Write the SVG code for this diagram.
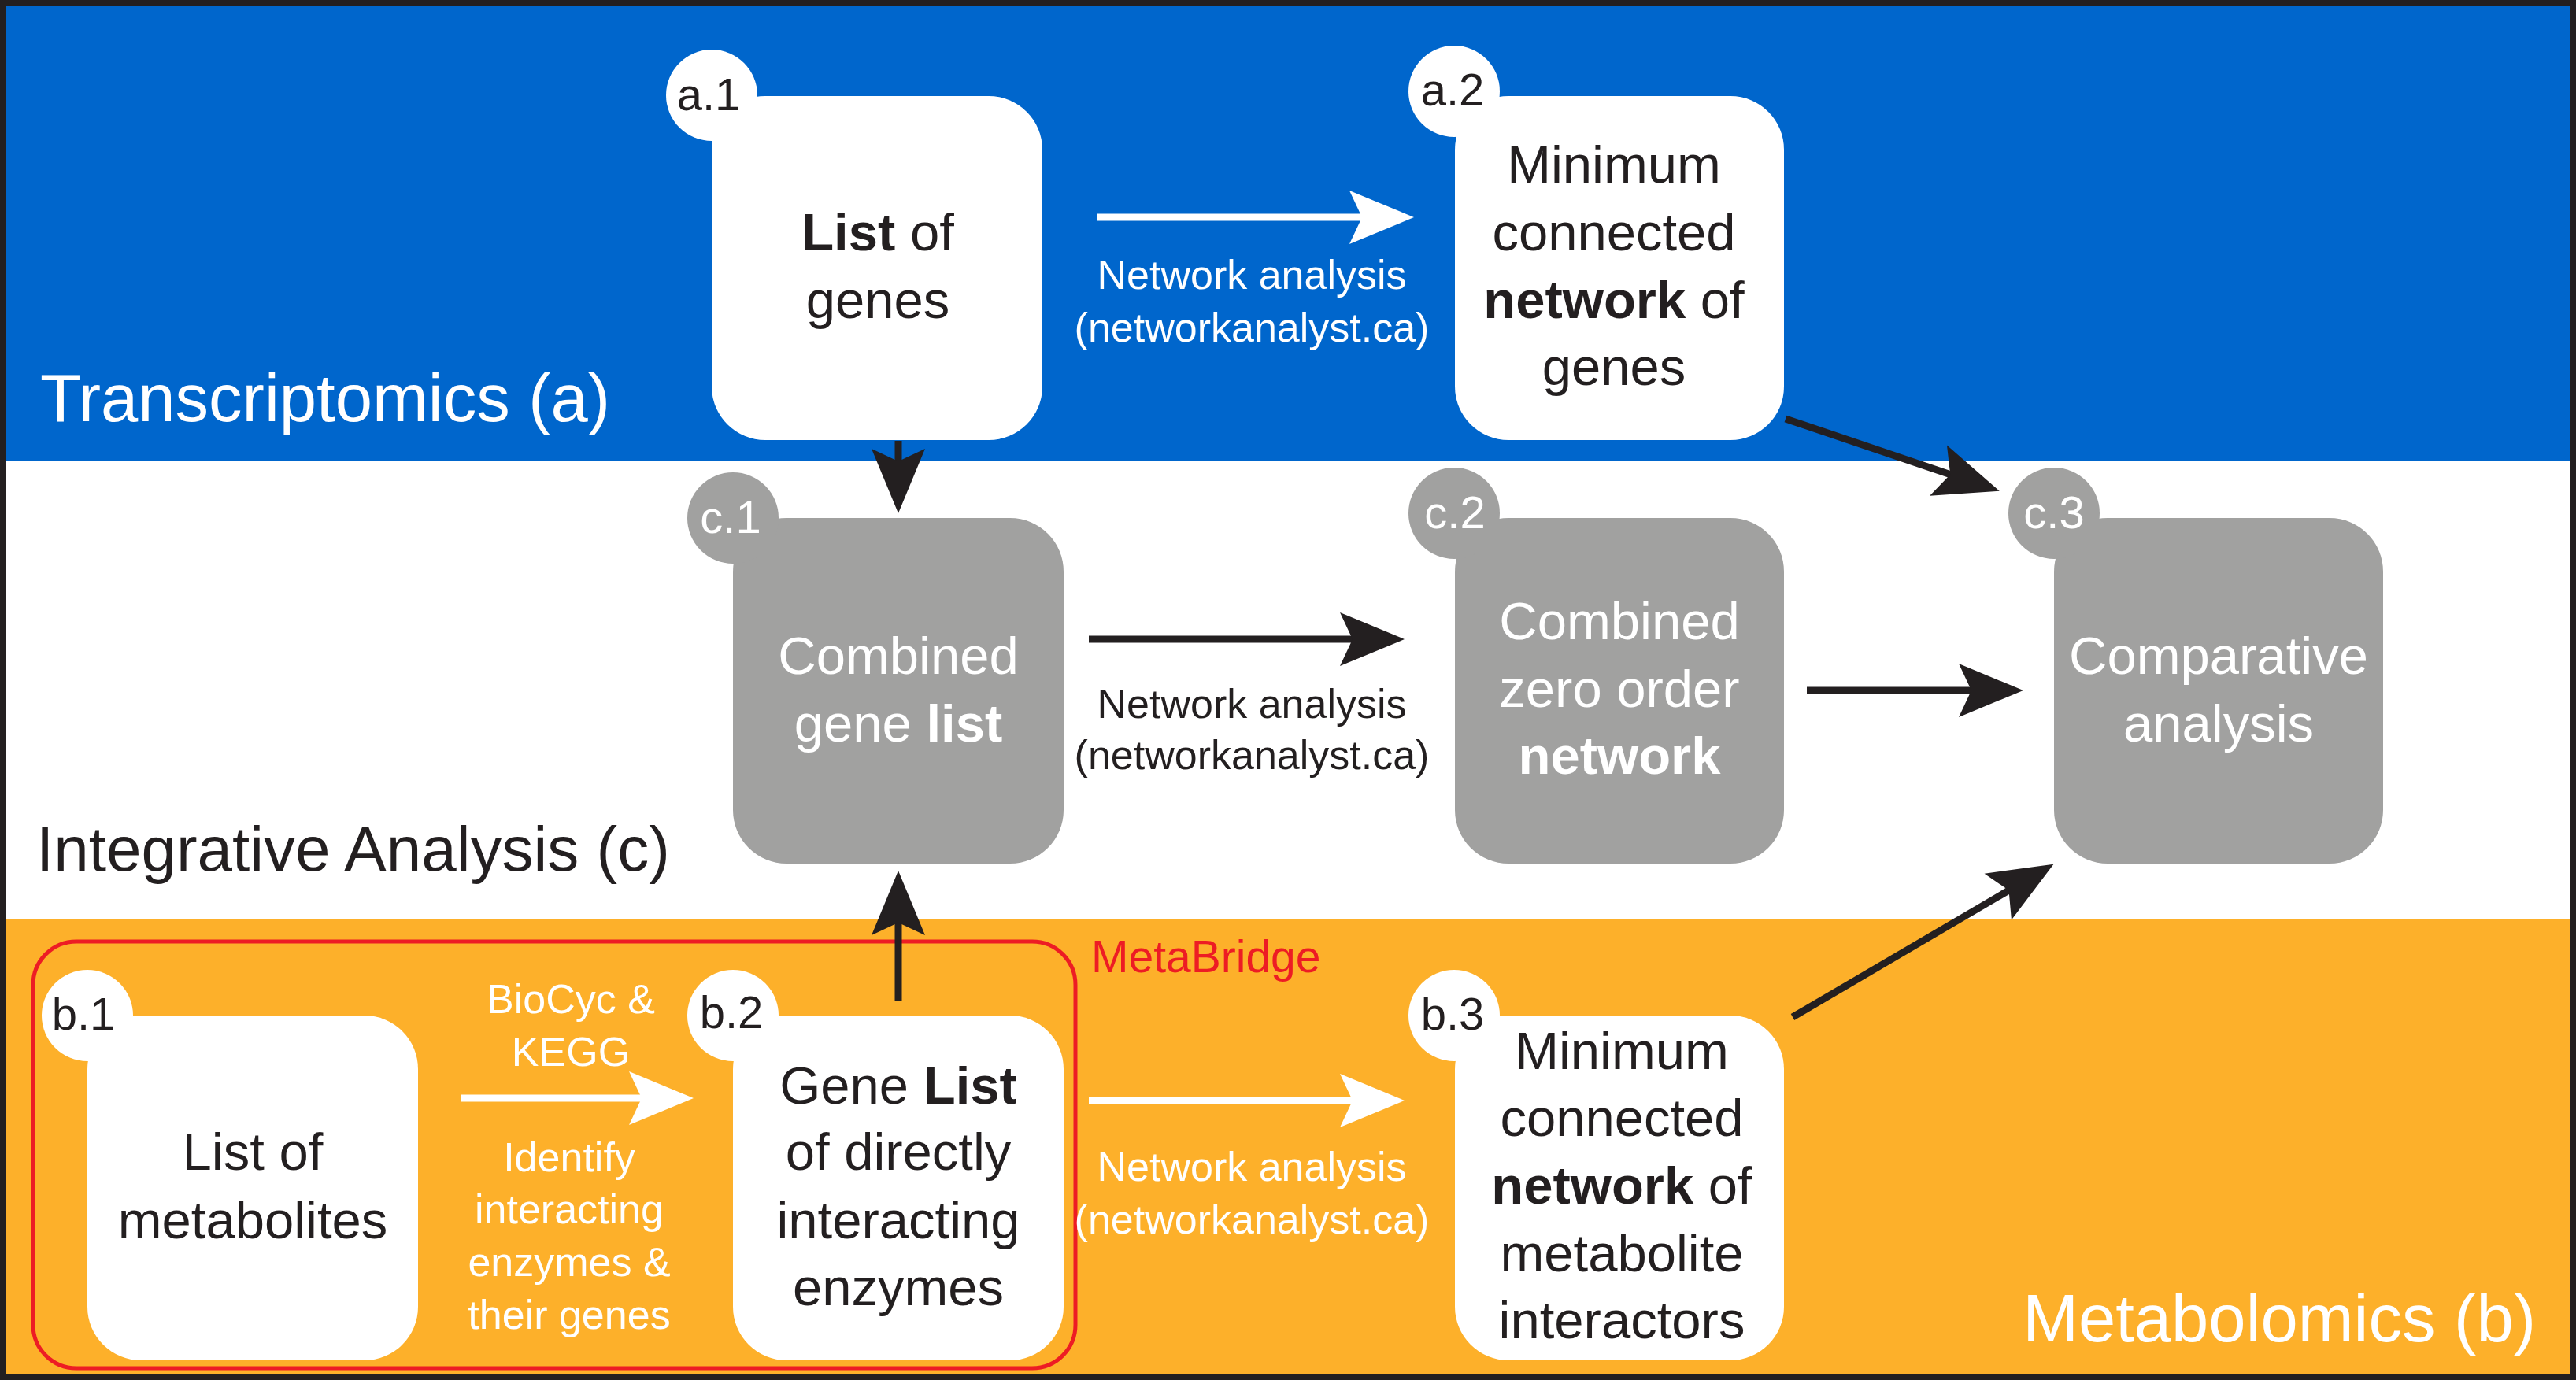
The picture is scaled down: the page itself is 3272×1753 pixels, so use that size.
<svg xmlns="http://www.w3.org/2000/svg" width="3272" height="1753" viewBox="0 0 3272 1753">
<style>
.t{font-family:"Liberation Sans",Arial,sans-serif}
.nt{font-size:67px;text-anchor:middle}
.lbl{font-size:58px;text-anchor:middle}
.al{font-size:52px;text-anchor:middle}
.dk{fill:#231F20}
.lt{fill:#FFFFFF}
.wb{fill:#FFFFFF}
.gb{fill:#A1A1A0}
.sec{font-size:85px}
.cb{stroke:#231F20;stroke-width:9;fill:none}
.cw{stroke:#FFFFFF;stroke-width:9;fill:none}
b{font-weight:bold}
</style>
<defs>
<marker id="ab" markerUnits="userSpaceOnUse" markerWidth="100" markerHeight="80" viewBox="-5 -40 100 80" refX="20" refY="0" orient="auto"><path d="M0,-34 L82,0 L0,34 L16,0 Z" fill="#231F20"/></marker>
<marker id="aw" markerUnits="userSpaceOnUse" markerWidth="100" markerHeight="80" viewBox="-5 -40 100 80" refX="20" refY="0" orient="auto"><path d="M0,-34 L82,0 L0,34 L16,0 Z" fill="#FFFFFF"/></marker>
</defs>
<g id="bands">
<rect x="0" y="0" width="3272" height="586" fill="#0066CC"/>
<rect x="0" y="586" width="3272" height="582" fill="#FFFFFF"/>
<rect x="0" y="1168" width="3272" height="585" fill="#FDB02A"/>
<text class="t sec lt" x="51" y="535">Transcriptomics (a)</text>
<text class="t dk" font-size="80" x="46" y="1106">Integrative Analysis (c)</text>
<text class="t sec lt" x="3221" y="1704" text-anchor="end">Metabolomics (b)</text>
</g>
<g id="metabridge">
<rect x="42" y="1196" width="1324" height="542" rx="55" fill="none" stroke="#ED1C24" stroke-width="5"/>
<text class="t" font-size="57" fill="#ED1C24" x="1386" y="1235">MetaBridge</text>
</g>
<g id="connectors">
<line class="cw" x1="1394" y1="276" x2="1734" y2="276" marker-end="url(#aw)"/>
<text class="t al lt" x="1590" y="367">Network analysis</text>
<text class="t al lt" x="1590" y="434">(networkanalyst.ca)</text>
<line class="cb" x1="1383" y1="812" x2="1722" y2="812" marker-end="url(#ab)"/>
<text class="t al dk" x="1590" y="912">Network analysis</text>
<text class="t al dk" x="1590" y="977">(networkanalyst.ca)</text>
<line class="cb" x1="2295" y1="877" x2="2508" y2="877" marker-end="url(#ab)"/>
<line class="cw" x1="585" y1="1395" x2="819" y2="1395" marker-end="url(#aw)"/>
<text class="t al lt" x="725" y="1287">BioCyc &amp;</text>
<text class="t al lt" x="725" y="1354">KEGG</text>
<text class="t al lt" x="723" y="1488">Identify</text>
<text class="t al lt" x="723" y="1554">interacting</text>
<text class="t al lt" x="723" y="1621">enzymes &amp;</text>
<text class="t al lt" x="723" y="1688">their genes</text>
<line class="cw" x1="1383" y1="1398" x2="1722" y2="1398" marker-end="url(#aw)"/>
<text class="t al lt" x="1590" y="1500">Network analysis</text>
<text class="t al lt" x="1590" y="1567">(networkanalyst.ca)</text>
<line class="cb" x1="1141" y1="560" x2="1141" y2="590" marker-end="url(#ab)"/>
<line class="cb" x1="1141" y1="1272" x2="1141" y2="1168" marker-end="url(#ab)"/>
<line class="cb" x1="2268" y1="532" x2="2481" y2="604" marker-end="url(#ab)"/>
<line class="cb" x1="2277" y1="1292" x2="2555" y2="1129" marker-end="url(#ab)"/>
</g>
<g id="a1">
<rect class="wb" x="904" y="122" width="420" height="437" rx="68"/>
<circle class="wb" cx="904" cy="121" r="58"/>
<text class="t lbl dk" x="900" y="140">a.1</text>
<text class="t nt dk" x="1115" y="318"><tspan font-weight="bold">List</tspan> of</text>
<text class="t nt dk" x="1115" y="404">genes</text>
</g>
<g id="a2">
<rect class="wb" x="1848" y="122" width="418" height="437" rx="68"/>
<circle class="wb" cx="1847" cy="116" r="58"/>
<text class="t lbl dk" x="1845" y="134">a.2</text>
<text class="t nt dk" x="2050" y="232">Minimum</text>
<text class="t nt dk" x="2050" y="318">connected</text>
<text class="t nt dk" x="2050" y="404"><tspan font-weight="bold">network</tspan> of</text>
<text class="t nt dk" x="2050" y="489">genes</text>
</g>
<g id="c1">
<rect class="gb" x="931" y="658" width="420" height="439" rx="68"/>
<circle class="gb" cx="931" cy="658" r="58"/>
<text class="t lbl lt" x="928" y="677">c.1</text>
<text class="t nt lt" x="1141" y="856">Combined</text>
<text class="t nt lt" x="1141" y="942">gene <tspan font-weight="bold">list</tspan></text>
</g>
<g id="c2">
<rect class="gb" x="1848" y="658" width="418" height="439" rx="68"/>
<circle class="gb" cx="1847" cy="652" r="58"/>
<text class="t lbl lt" x="1848" y="671">c.2</text>
<text class="t nt lt" x="2057" y="812">Combined</text>
<text class="t nt lt" x="2057" y="898">zero order</text>
<text class="t nt lt" x="2057" y="983" font-weight="bold">network</text>
</g>
<g id="c3">
<rect class="gb" x="2609" y="658" width="418" height="439" rx="68"/>
<circle class="gb" cx="2609" cy="652" r="58"/>
<text class="t lbl lt" x="2609" y="671">c.3</text>
<text class="t nt lt" x="2818" y="856">Comparative</text>
<text class="t nt lt" x="2818" y="942">analysis</text>
</g>
<g id="b1">
<rect class="wb" x="111" y="1290" width="420" height="438" rx="68"/>
<circle class="wb" cx="111" cy="1290" r="58"/>
<text class="t lbl dk" x="106" y="1308">b.1</text>
<text class="t nt dk" x="321" y="1486">List of</text>
<text class="t nt dk" x="321" y="1573">metabolites</text>
</g>
<g id="b2">
<rect class="wb" x="931" y="1290" width="420" height="438" rx="68"/>
<circle class="wb" cx="931" cy="1290" r="58"/>
<text class="t lbl dk" x="929" y="1306">b.2</text>
<text class="t nt dk" x="1141" y="1402">Gene <tspan font-weight="bold">List</tspan></text>
<text class="t nt dk" x="1141" y="1486">of directly</text>
<text class="t nt dk" x="1141" y="1573">interacting</text>
<text class="t nt dk" x="1141" y="1658">enzymes</text>
</g>
<g id="b3">
<rect class="wb" x="1848" y="1290" width="418" height="438" rx="68"/>
<circle class="wb" cx="1847" cy="1290" r="58"/>
<text class="t lbl dk" x="1845" y="1308">b.3</text>
<text class="t nt dk" x="2060" y="1358">Minimum</text>
<text class="t nt dk" x="2060" y="1443">connected</text>
<text class="t nt dk" x="2060" y="1529"><tspan font-weight="bold">network</tspan> of</text>
<text class="t nt dk" x="2060" y="1615">metabolite</text>
<text class="t nt dk" x="2060" y="1700">interactors</text>
</g>
<rect x="4" y="4" width="3264" height="1745" fill="none" stroke="#231F20" stroke-width="8"/>
</svg>
